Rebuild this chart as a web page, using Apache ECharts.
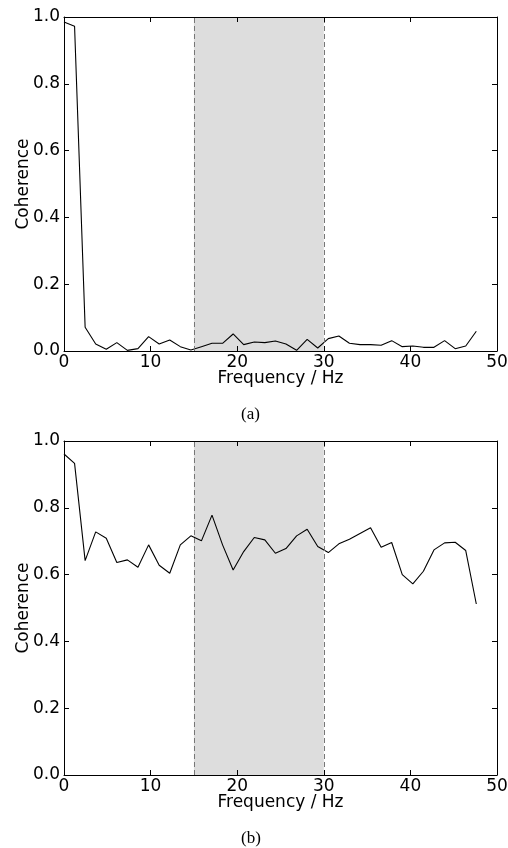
<!DOCTYPE html>
<html>
<head>
<meta charset="utf-8">
<script src="https://cdn.jsdelivr.net/npm/echarts@6/dist/echarts.min.js"></script>
<style>html,body{margin:0;padding:0;background:#fff}#c{width:508px;height:848px}</style>
</head>
<body>
<div id="c"></div>
<script>
var freqs = [0, 1.22, 2.44, 3.66, 4.88, 6.10, 7.32, 8.54, 9.77, 10.99, 12.21, 13.43, 14.65, 15.87, 17.09, 18.31, 19.53, 20.75, 21.97, 23.19, 24.41, 25.63, 26.86, 28.08, 29.30, 30.52, 31.74, 32.96, 34.18, 35.40, 36.62, 37.84, 39.06, 40.28, 41.50, 42.72, 43.95, 45.17, 46.39, 47.61];
var coherenceA = [0.985, 0.972, 0.071, 0.021, 0.005, 0.025, 0.002, 0.007, 0.043, 0.021, 0.033, 0.013, 0.003, 0.013, 0.023, 0.023, 0.051, 0.019, 0.027, 0.025, 0.030, 0.021, 0.002, 0.035, 0.009, 0.037, 0.045, 0.023, 0.019, 0.019, 0.017, 0.031, 0.013, 0.015, 0.011, 0.011, 0.031, 0.007, 0.015, 0.059];
var coherenceB = [0.961, 0.933, 0.642, 0.728, 0.709, 0.636, 0.644, 0.622, 0.689, 0.628, 0.604, 0.689, 0.716, 0.701, 0.778, 0.689, 0.614, 0.669, 0.711, 0.704, 0.664, 0.678, 0.716, 0.736, 0.684, 0.666, 0.692, 0.706, 0.723, 0.740, 0.682, 0.696, 0.600, 0.572, 0.610, 0.674, 0.695, 0.697, 0.672, 0.512];
var bandRange = [15, 30];
var xTicks = [0, 10, 20, 30, 40, 50];
var yTicks = [0.0, 0.2, 0.4, 0.6, 0.8, 1.0];
var captions = ['(a)', '(b)'];
var xName = 'Frequency / Hz';
var yName = 'Coherence';

var FONT = 'DejaVu Sans';
var FS = 17;
var chart = echarts.init(document.getElementById('c'), null, {renderer: 'canvas'});

function pairs(ys) { return freqs.map(function (f, i) { return [f, ys[i]]; }); }

var grids = [
  {left: 64, top: 17, width: 433, height: 334, containLabel: false, outerBoundsMode: 'none'},
  {left: 64, top: 441, width: 433, height: 334, containLabel: false, outerBoundsMode: 'none'}
];
var xAxes = [], yAxes = [], series = [];
[coherenceA, coherenceB].forEach(function (vals, g) {
  var line = {show: true, onZero: false, lineStyle: {color: '#000', width: 1}};
  var tick = {show: true, inside: true, length: 5, lineStyle: {color: '#000', width: 1}};
  xAxes.push({
    type: 'value', gridIndex: g, position: 'bottom', min: xTicks[0], max: xTicks[xTicks.length - 1], interval: 10,
    axisLine: line, axisTick: tick, splitLine: {show: false}, z: 5,
    axisLabel: {color: '#000', fontFamily: FONT, fontSize: FS, margin: 3},
    name: xName, nameLocation: 'middle', nameGap: 19, nameMoveOverlap: false,
    nameTextStyle: {color: '#000', fontFamily: FONT, fontSize: FS}
  });
  xAxes.push({
    type: 'value', gridIndex: g, position: 'top', min: xTicks[0], max: xTicks[xTicks.length - 1], interval: 10,
    axisLine: line, axisTick: tick, splitLine: {show: false}, axisLabel: {show: false}, z: 5
  });
  yAxes.push({
    type: 'value', gridIndex: g, position: 'left', min: yTicks[0], max: yTicks[yTicks.length - 1], interval: 0.2,
    axisLine: line, axisTick: tick, splitLine: {show: false}, z: 5,
    axisLabel: {color: '#000', fontFamily: FONT, fontSize: FS, margin: 4, formatter: function (v) { return v.toFixed(1); }},
    name: yName, nameLocation: 'middle', nameGap: 32, nameMoveOverlap: false,
    nameTextStyle: {color: '#000', fontFamily: FONT, fontSize: FS}
  });
  yAxes.push({
    type: 'value', gridIndex: g, position: 'right', min: yTicks[0], max: yTicks[yTicks.length - 1], interval: 0.2,
    axisLine: line, axisTick: tick, splitLine: {show: false}, axisLabel: {show: false}, z: 5
  });
  series.push({
    type: 'line', xAxisIndex: g * 2, yAxisIndex: g * 2, data: pairs(vals),
    showSymbol: false, symbol: 'none', lineStyle: {color: '#000', width: 1.1}, z: 3,
    markArea: {silent: true, itemStyle: {color: '#dddddd'}, data: [[{xAxis: bandRange[0]}, {xAxis: bandRange[1]}]]},
    markLine: {silent: true, symbol: 'none', label: {show: false},
      lineStyle: {color: '#777', width: 1, type: [5, 3]},
      data: [{xAxis: bandRange[0]}, {xAxis: bandRange[1]}]}
  });
});

chart.setOption({
  animation: false,
  backgroundColor: '#fff',
  grid: grids,
  xAxis: xAxes,
  yAxis: yAxes,
  series: series,
  graphic: [
    {type: 'text', left: 241, top: 406, style: {text: captions[0], font: '17px "Liberation Serif"', fill: '#000'}},
    {type: 'text', left: 241, top: 830, style: {text: captions[1], font: '17px "Liberation Serif"', fill: '#000'}}
  ]
});
</script>
</body>
</html>
